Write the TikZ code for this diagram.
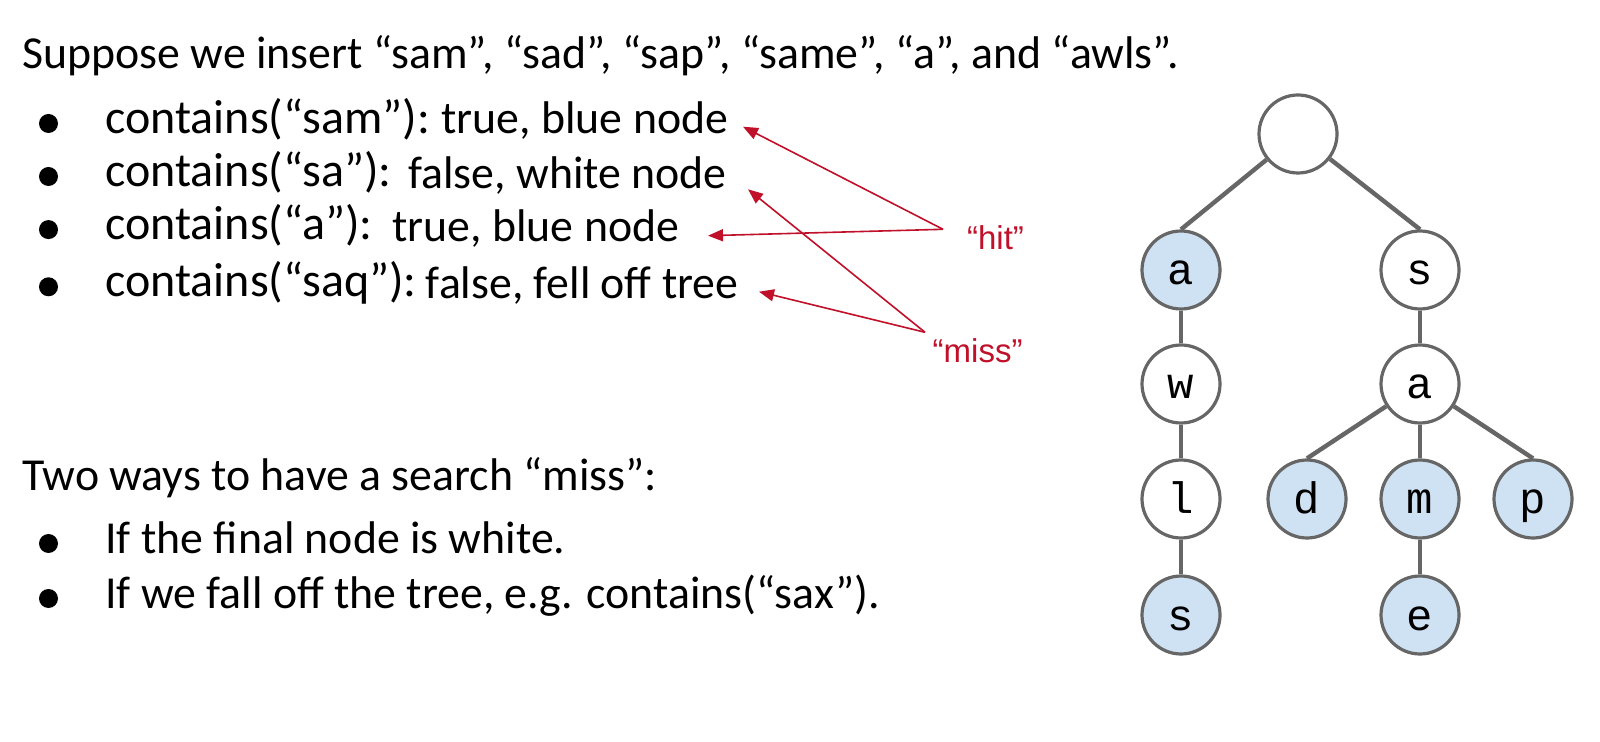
\documentclass[tikz,border=0pt]{standalone}
\usepackage{fontspec}
\setmainfont{Carlito}
\newfontfamily\arialfont{Liberation Sans}
\newfontfamily\trimono{Liberation Mono}
\usetikzlibrary{arrows.meta}
\definecolor{edgegray}{HTML}{666666}
\definecolor{nodeblue}{HTML}{CFE2F3}
\definecolor{hitred}{HTML}{C0102A}
\begin{document}
\begin{tikzpicture}[x=0.5pt,y=-0.5pt,
  txt/.style={anchor=base west, inner sep=0pt, font=\fontsize{22.9}{27}\selectfont},
  ctxt/.style={anchor=base west, inner sep=0pt, font=\fontsize{24}{28}\selectfont},
  bul/.style={circle, fill=black, inner sep=0pt, minimum size=9.5pt},
  lbl/.style={anchor=base west, inner sep=0pt, text=hitred, font=\arialfont\fontsize{16.5}{20}\selectfont},
  ptr/.style={draw=hitred, line width=0.8pt, -{Triangle[length=7.5pt,width=6pt]}},
  tnode/.style={circle, draw=edgegray, line width=1.6pt, fill=white, minimum size=39pt, inner sep=0pt, text height=15pt, text depth=0pt, font=\trimono\fontsize{22}{26}\selectfont},
  bnode/.style={tnode, fill=nodeblue},
  tedge/.style={draw=edgegray, line width=2.2pt}
]
\useasboundingbox[fill=white] (0,0) rectangle (1600,742);

% title
\node[txt] (title) at (22,68.6) {Suppose we insert “sam”, “sad”, “sap”, “same”, “a”, and “awls”.};

% bullet list
\node[bul] (b1) at (48.5,123.5) {};
\node[bul] (b2) at (48.5,176.5) {};
\node[bul] (b3) at (48.5,229.6) {};
\node[bul] (b4) at (48.5,286.8) {};
\node[ctxt] (c1) at (105,133.5) {contains(“sam”):};
\node[ctxt] (c2) at (105,186.5) {contains(“sa”):};
\node[ctxt] (c3) at (105,239.5) {contains(“a”):};
\node[ctxt] (c4) at (105,296.5) {contains(“saq”):};
\node[txt] (r1) at (441,133.5) {true, blue node};
\node[txt] (r2) at (408,189) {false, white node};
\node[txt] (r3) at (392,242) {true, blue node};
\node[txt] (r4) at (425.5,299) {false, fell off tree};

% labels and arrows
\node[lbl] (hit) at (966.7,250) {“hit”};
\node[lbl] (miss) at (932.3,362.3) {“miss”};
\coordinate (hitapex) at (943,229.3);
\coordinate (missapex) at (925,332.3);
\coordinate (tip1) at (743,126.7);
\coordinate (tip2) at (748,189.3);
\coordinate (tip3) at (708,235.7);
\coordinate (tip4) at (759,291.7);
\draw[ptr] (hitapex) -- (tip1);
\draw[ptr] (hitapex) -- (tip3);
\draw[ptr] (missapex) -- (tip2);
\draw[ptr] (missapex) -- (tip4);

% bottom text
\node[txt] (two) at (22,491) {Two ways to have a search “miss”:};
\node[bul] (b5) at (48.5,543.5) {};
\node[bul] (b6) at (48.5,598.5) {};
\node[txt] (w1) at (105,553) {If the final node is white.};
\node[txt] (w2) at (105,608) {If we fall off the tree, e.g. contains(“sax”).};

% tree
\node[tnode] (root) at (1298,134) {};
\node[bnode] (na) at (1181,270) {a};
\node[tnode] (ns) at (1420,270) {s};
\node[tnode] (nw) at (1181,384) {w};
\node[tnode] (na2) at (1420,384) {a};
\node[tnode] (nl) at (1181,499) {l};
\node[bnode] (nd) at (1307,499) {d};
\node[bnode] (nm) at (1420,499) {m};
\node[bnode] (np) at (1533,499) {p};
\node[bnode] (ns2) at (1181,615) {s};
\node[bnode] (ne) at (1420,615) {e};
\draw[tedge] (root) -- (na.north);
\draw[tedge] (root) -- (ns.north);
\draw[tedge] (na) -- (nw);
\draw[tedge] (ns) -- (na2);
\draw[tedge] (nw) -- (nl);
\draw[tedge] (nl) -- (ns2);
\draw[tedge] (na2) -- (nd.north);
\draw[tedge] (na2) -- (nm);
\draw[tedge] (na2) -- (np.north);
\draw[tedge] (nm) -- (ne);
\end{tikzpicture}
\end{document}
